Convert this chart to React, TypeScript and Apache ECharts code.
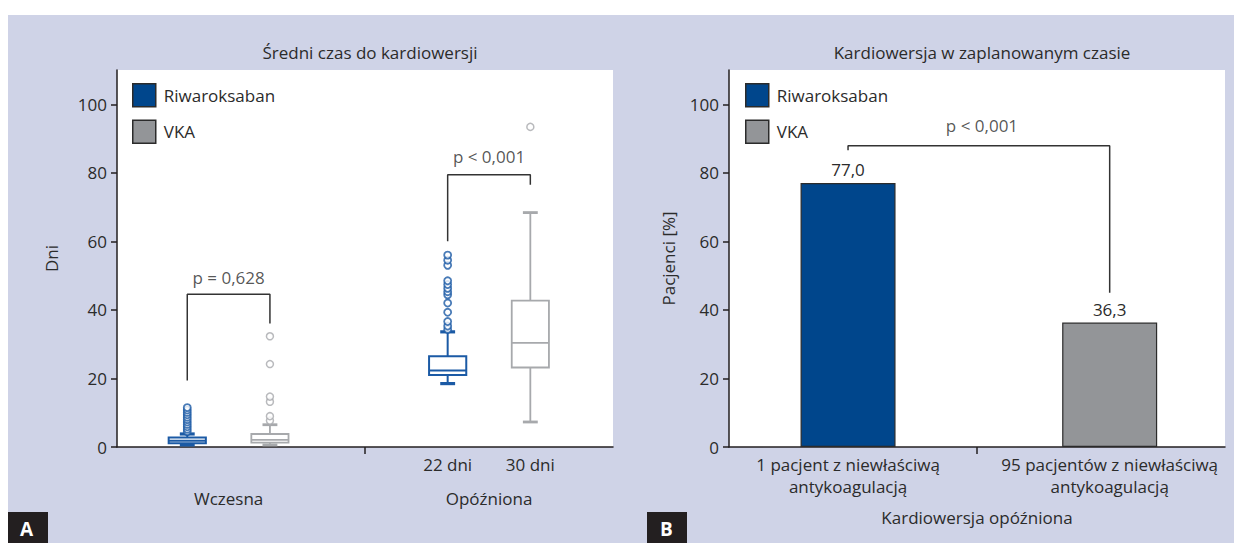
import React, { useEffect, useRef } from "react";
import * as echarts from "echarts";

// ---------- data ----------
const seriesNames = ["Riwaroksaban", "VKA"];
const yTicks = [0, 20, 40, 60, 80, 100];

// Panel A: box plots [low whisker, Q1, median, Q3, high whisker]
const boxGroups = ["Wczesna", "Opóźniona"];
const boxSubLabels = ["22 dni", "30 dni"];
const riwaBoxes = [
  [0.6, 1.1, 1.8, 2.8, 3.8],
  [18.5, 21.0, 22.3, 26.5, 33.6],
];
const vkaBoxes = [
  [0.6, 1.3, 2.1, 3.8, 6.5],
  [7.3, 23.2, 30.4, 42.7, 68.4],
];
const riwaOutliersEarly = [4.5, 5.2, 5.9, 6.6, 7.3, 8.0, 8.7, 9.4, 10.1, 10.8, 11.5];
const riwaOutliersLate = [34.3, 35.3, 36.6, 39.3, 42.0, 44.4, 45.3, 46.3, 47.4, 48.5, 53.0, 54.5, 56.0];
const vkaOutliersEarly = [7.7, 9.0, 13.2, 14.7, 24.2, 32.3];
const vkaOutliersLate = [93.4];
const pValuesA = ["p = 0,628", "p < 0,001"];

// Panel B: bars
const barCategories = [
  "1 pacjent z niewłaściwą\nantykoagulacją",
  "95 pacjentów z niewłaściwą\nantykoagulacją",
];
const riwaBar = 77.0;
const vkaBar = 36.3;
const pValueB = "p < 0,001";

// ---------- layout / style constants ----------
const FONT = "'Open Sans', 'Noto Sans', sans-serif";
const FS = 17;
const TXT = "#2b2b2b";
const AX = "#231f20";
const BLUE_BOX = "#1b5aa5";
const GRAY_BOX = "#a7a9ac";
const BLUE_BAR = "#00468c";
const GRAY_BAR = "#939598";
const BG = "#cfd3e7";

const posA = { riwaEarly: 0.85, vkaEarly: 1.85, riwaLate: 4, vkaLate: 5, groupEarly: 1.35, groupLate: 4.5, split: 3 };
const posB = { riwa: 0.48, vka: 1.535, split: 1 };
const BOX_W = 0.45;
const CAP_W = 0.18;

function makeBoxRenderer(lw: number, capLw: number) {
  return function (params: any, api: any) {
    const x = api.value(0);
    const low = api.coord([x, api.value(1)]);
    const q1 = api.coord([x, api.value(2)]);
    const med = api.coord([x, api.value(3)]);
    const q3 = api.coord([x, api.value(4)]);
    const high = api.coord([x, api.value(5)]);
    const w = api.size([BOX_W, 0])[0];
    const cw = api.size([CAP_W, 0])[0];
    const cx = low[0];
    const color = api.visual("color");
    const st = { stroke: color, lineWidth: lw, fill: null };
    return {
      type: "group",
      children: [
        { type: "line", shape: { x1: cx, y1: q3[1], x2: cx, y2: high[1] }, style: st },
        { type: "line", shape: { x1: cx, y1: q1[1], x2: cx, y2: low[1] }, style: st },
        { type: "line", shape: { x1: cx - cw / 2, y1: high[1], x2: cx + cw / 2, y2: high[1] }, style: { stroke: color, lineWidth: capLw } },
        { type: "line", shape: { x1: cx - cw / 2, y1: low[1], x2: cx + cw / 2, y2: low[1] }, style: { stroke: color, lineWidth: capLw } },
        { type: "rect", shape: { x: cx - w / 2, y: q3[1], width: w, height: q1[1] - q3[1] }, style: { fill: "#fff", stroke: color, lineWidth: lw } },
        { type: "line", shape: { x1: cx - w / 2, y1: med[1], x2: cx + w / 2, y2: med[1] }, style: { stroke: color, lineWidth: lw } },
      ],
    };
  };
}

const fmtNum = (v: number) => v.toFixed(1).replace(".", ",");

export default function App() {
  const ref = useRef<HTMLDivElement>(null);
  useEffect(() => {
    if (!ref.current) return;
    const chart = echarts.init(ref.current, undefined, { renderer: "svg" });

    const baseText = { fontFamily: FONT, fontSize: FS, color: TXT };
    const yAxisCommon = {
      type: "value",
      min: 0,
      max: 110,
      axisLine: { show: true, lineStyle: { color: AX, width: 1.5 } },
      axisTick: { show: true, length: 6, customValues: yTicks, lineStyle: { color: AX, width: 1.5 } },
      axisLabel: { ...baseText, margin: 10, customValues: yTicks },
      splitLine: { show: false },
      nameLocation: "middle",
      nameRotate: 90,
      nameTextStyle: { ...baseText },
    };

    const legendData = [
      { name: seriesNames[0], icon: "rect", itemStyle: { color: BLUE_BAR, borderColor: "#2b2b2b", borderWidth: 1.5 } },
      { name: seriesNames[1], icon: "rect", itemStyle: { color: GRAY_BAR, borderColor: "#2b2b2b", borderWidth: 1.5 } },
    ];
    const legendCommon = {
      orient: "vertical",
      top: 70,
      padding: 5,
      itemWidth: 23,
      itemHeight: 23,
      itemGap: 12,
      selectedMode: false,
      textStyle: { ...baseText, padding: [0, 0, 0, 3] },
      data: legendData,
    };

    const bracketLine = (pts: number[][], xi: number, yi: number) => ({
      type: "line",
      xAxisIndex: xi,
      yAxisIndex: yi,
      data: pts,
      symbol: "none",
      silent: true,
      lineStyle: { color: "#333", width: 1.5 },
      z: 5,
    });
    const pText = (txt: string, pt: number[], xi: number, yi: number) => ({
      type: "scatter",
      xAxisIndex: xi,
      yAxisIndex: yi,
      data: [pt],
      symbolSize: 1,
      itemStyle: { color: "rgba(0,0,0,0)" },
      silent: true,
      label: { show: true, position: "inside", formatter: txt, ...baseText },
    });

    const outlierSeries = (name: string, x: number, vals: number[], color: string, bw: number) => ({
      type: "scatter",
      name,
      xAxisIndex: 0,
      yAxisIndex: 0,
      data: vals.map((v) => [x, v]),
      symbol: "circle",
      symbolSize: 7,
      itemStyle: { color: "#fff", borderColor: color, borderWidth: bw },
      z: 4,
    });

    const option: any = {
      animation: false,
      backgroundColor: BG,
      textStyle: { fontFamily: FONT },
      title: [
        { text: "Średni czas do kardiowersji", left: 357, top: 31, textAlign: "center", textStyle: { ...baseText, fontWeight: "normal" } },
        { text: "Kardiowersja w zaplanowanym czasie", left: 969, top: 31, textAlign: "center", textStyle: { ...baseText, fontWeight: "normal" } },
      ],
      legend: [
        { ...legendCommon, left: 119 },
        { ...legendCommon, left: 732 },
      ],
      grid: [
        { left: 109, top: 62, width: 496, height: 377, show: true, backgroundColor: "#fff", borderWidth: 0 },
        { left: 721, top: 62, width: 496, height: 377, show: true, backgroundColor: "#fff", borderWidth: 0 },
      ],
      xAxis: [
        {
          gridIndex: 0,
          type: "value",
          min: 0,
          max: 6,
          axisLine: { show: true, lineStyle: { color: AX, width: 1.5 } },
          axisTick: { show: true, length: 7, customValues: [posA.split], lineStyle: { color: AX, width: 1.5 } },
          axisLabel: {
            ...baseText,
            margin: 6,
            lineHeight: 22,
            customValues: [posA.riwaLate, posA.vkaLate],
            formatter: (v: number) => (v === posA.riwaLate ? boxSubLabels[0] : boxSubLabels[1]),
          },
          splitLine: { show: false },
        },
        {
          gridIndex: 0,
          type: "value",
          min: 0,
          max: 6,
          position: "bottom",
          axisLine: { show: false },
          axisTick: { show: false },
          axisLabel: {
            ...baseText,
            margin: 40,
            lineHeight: 22,
            customValues: [posA.groupEarly, posA.groupLate],
            formatter: (v: number) => (v === posA.groupEarly ? boxGroups[0] : boxGroups[1]),
          },
          splitLine: { show: false },
        },
        {
          gridIndex: 1,
          type: "value",
          min: 0,
          max: 2,
          axisLine: { show: true, lineStyle: { color: AX, width: 1.5 } },
          axisTick: { show: true, length: 7, customValues: [posB.split], lineStyle: { color: AX, width: 1.5 } },
          axisLabel: {
            ...baseText,
            margin: 6,
            lineHeight: 22.5,
            customValues: [posB.riwa, posB.vka],
            formatter: (v: number) => (v === posB.riwa ? barCategories[0] : barCategories[1]),
          },
          splitLine: { show: false },
          name: "Kardiowersja opóźniona",
          nameLocation: "middle",
          nameGap: 62,
          nameTextStyle: { ...baseText },
        },
      ],
      yAxis: [
        { ...yAxisCommon, gridIndex: 0, name: "Dni", nameGap: 57 },
        { ...yAxisCommon, gridIndex: 1, name: "Pacjenci [%]", nameGap: 52 },
      ],
      graphic: [
        { type: "rect", left: 0, top: 0, shape: { width: 1234, height: 7 }, style: { fill: "#fff" }, z: 100 },
        { type: "rect", left: 0, top: 504, shape: { width: 40, height: 31 }, style: { fill: "#231f20" }, z: 100 },
        { type: "text", left: 12, top: 511, style: { text: "A", fill: "#fff", font: `bold 19px ${FONT}` }, z: 101 },
        { type: "rect", left: 639, top: 504, shape: { width: 40, height: 31 }, style: { fill: "#231f20" }, z: 100 },
        { type: "text", left: 652, top: 511, style: { text: "B", fill: "#fff", font: `bold 19px ${FONT}` }, z: 101 },
      ],
      series: [
        {
          type: "custom",
          name: seriesNames[0],
          xAxisIndex: 0,
          yAxisIndex: 0,
          itemStyle: { color: BLUE_BOX },
          renderItem: makeBoxRenderer(2, 3.2),
          encode: { x: 0, y: [1, 2, 3, 4, 5] },
          data: [
            [posA.riwaEarly, ...riwaBoxes[0]],
            [posA.riwaLate, ...riwaBoxes[1]],
          ],
          z: 3,
        },
        {
          type: "custom",
          name: seriesNames[1],
          xAxisIndex: 0,
          yAxisIndex: 0,
          itemStyle: { color: GRAY_BOX },
          renderItem: makeBoxRenderer(1.8, 2.8),
          encode: { x: 0, y: [1, 2, 3, 4, 5] },
          data: [
            [posA.vkaEarly, ...vkaBoxes[0]],
            [posA.vkaLate, ...vkaBoxes[1]],
          ],
          z: 3,
        },
        outlierSeries(seriesNames[0], posA.riwaEarly, riwaOutliersEarly, BLUE_BOX, 1.8),
        outlierSeries(seriesNames[0], posA.riwaLate, riwaOutliersLate, BLUE_BOX, 1.8),
        outlierSeries(seriesNames[1], posA.vkaEarly, vkaOutliersEarly, GRAY_BOX, 1.5),
        outlierSeries(seriesNames[1], posA.vkaLate, vkaOutliersLate, GRAY_BOX, 1.5),
        bracketLine([[posA.riwaEarly, 19.4], [posA.riwaEarly, 44.6], [posA.vkaEarly, 44.6], [posA.vkaEarly, 36]], 0, 0),
        bracketLine([[posA.riwaLate, 60], [posA.riwaLate, 79.4], [posA.vkaLate, 79.4], [posA.vkaLate, 76.5]], 0, 0),
        pText(pValuesA[0], [posA.groupEarly, 49.6], 0, 0),
        pText(pValuesA[1], [posA.groupLate, 84.8], 0, 0),
        {
          type: "bar",
          name: seriesNames[0],
          xAxisIndex: 2,
          yAxisIndex: 1,
          barWidth: 95,
          barGap: "-100%",
          data: [[posB.riwa, riwaBar]],
          itemStyle: { color: BLUE_BAR, borderColor: "#2b2b2b", borderWidth: 1.2 },
          label: { show: true, position: "top", distance: 5, ...baseText, formatter: (p: any) => fmtNum(p.value[1]) },
        },
        {
          type: "bar",
          name: seriesNames[1],
          xAxisIndex: 2,
          yAxisIndex: 1,
          barWidth: 95,
          barGap: "-100%",
          data: [[posB.vka, vkaBar]],
          itemStyle: { color: GRAY_BAR, borderColor: "#2b2b2b", borderWidth: 1.2 },
          label: { show: true, position: "top", distance: 5, ...baseText, formatter: (p: any) => fmtNum(p.value[1]) },
        },
        bracketLine([[posB.riwa, 86.6], [posB.riwa, 87.9], [posB.vka, 87.9], [posB.vka, 45]], 2, 1),
        pText(pValueB, [1.02, 93.7], 2, 1),
      ],
    };
    chart.setOption(option);
    return () => chart.dispose();
  }, []);
  return <div ref={ref} style={{ width: 1234, height: 535 }} />;
}
